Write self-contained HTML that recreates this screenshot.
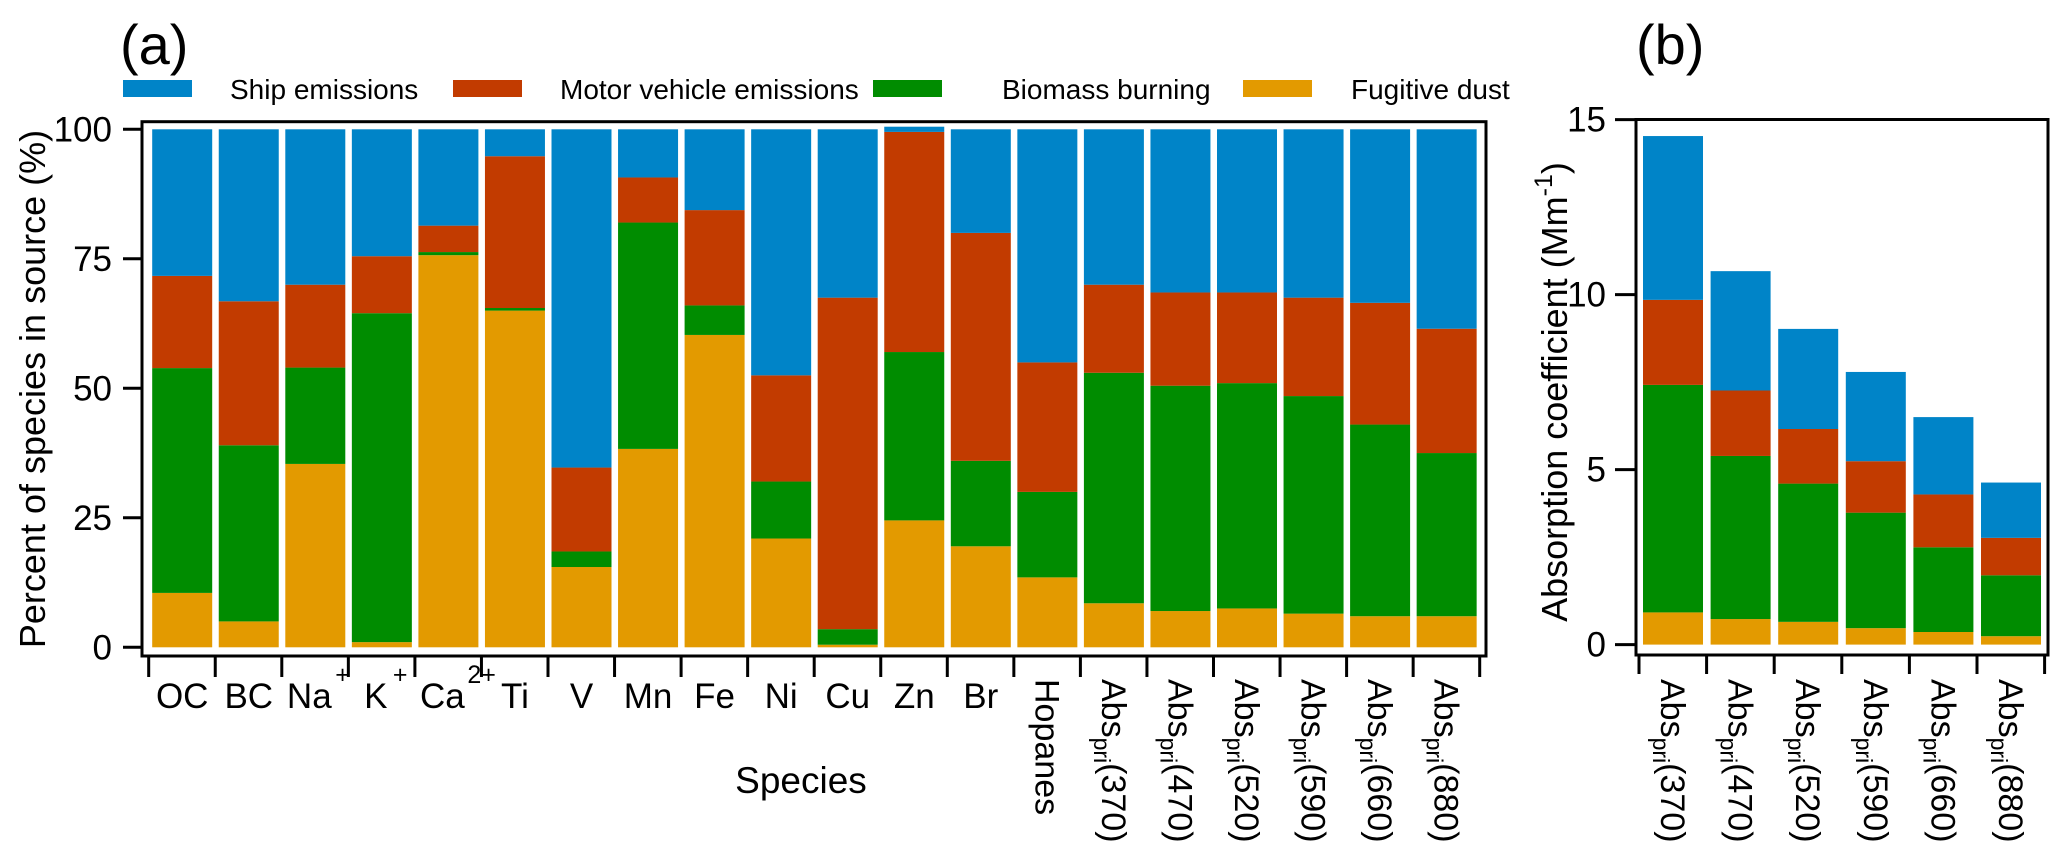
<!DOCTYPE html>
<html><head><meta charset="utf-8"><style>
html,body{margin:0;padding:0;background:#fff;}
svg{display:block;font-family:"Liberation Sans",Arial,sans-serif;}
</style></head><body>
<svg id="chart" width="2067" height="846" viewBox="0 0 2067 846" xmlns="http://www.w3.org/2000/svg">
<g id="gA"></g>
<g id="gB"></g>
<g id="legend"></g>
</svg>
<script>
// ---------- data: panel (a) percent, stacked bottom->top: dust, biomass, motor, ship ----------
const speciesA = ["OC","BC","Na","K","Ca","Ti","V","Mn","Fe","Ni","Cu","Zn","Br","Hopanes","370","470","520","590","660","880"];
const dustA    = [10.5, 5, 35.4, 1, 75.7, 65, 15.5, 38.3, 60.3, 21, 0.5, 24.5, 19.5, 13.5, 8.5, 7, 7.5, 6.5, 6, 6];
const biomassA = [43.4, 34, 18.6, 63.5, 0.6, 0.5, 3, 43.7, 5.7, 11, 3, 32.5, 16.5, 16.5, 44.5, 43.5, 43.5, 42, 37, 31.5];
const motorA   = [17.8, 27.8, 16, 11, 5.1, 29.3, 16.2, 8.7, 18.4, 20.5, 64, 42.5, 44, 25, 17, 18, 17.5, 19, 23.5, 24];
const shipA    = [28.3, 33.2, 30, 24.5, 18.6, 5.2, 65.3, 9.3, 15.6, 47.5, 32.5, 1, 20, 45, 30, 31.5, 31.5, 32.5, 33.5, 38.5];
const yTicksA  = [0, 25, 50, 75, 100];
// ---------- data: panel (b) Mm-1 ----------
const wavesB   = ["370","470","520","590","660","880"];
const dustB    = [0.92, 0.73, 0.65, 0.47, 0.36, 0.24];
const biomassB = [6.50, 4.66, 3.95, 3.30, 2.42, 1.74];
const motorB   = [2.43, 1.87, 1.56, 1.47, 1.51, 1.07];
const shipB    = [4.68, 3.41, 2.86, 2.55, 2.21, 1.58];
const yTicksB  = [0, 5, 10, 15];

const COLORS = {ship:"#0084C8", motor:"#C23B00", biomass:"#008C00", dust:"#E39A00"};
const NS = "http://www.w3.org/2000/svg";
function mk(tag, attrs, parent){const e=document.createElementNS(NS,tag);for(const k in attrs)e.setAttribute(k,attrs[k]);parent.appendChild(e);return e;}

// ---------- panel A ----------
const gA = document.getElementById('gA');
const A = {left:142, top:121.7, right:1486, bottom:656, y0:647.3, y100:129.3, x0:152.2, pitch:66.55, bw:60};
const yA = v => A.y0 - (v/100)*(A.y0-A.y100);
const xA = i => A.x0 + i*A.pitch;
speciesA.forEach((s,i)=>{
  const segs=[["dust",dustA[i]],["biomass",biomassA[i]],["motor",motorA[i]],["ship",shipA[i]]];
  let cum=0;
  segs.forEach(([k,v])=>{
    const r=mk('rect',{x:xA(i),y:yA(cum+v),width:A.bw,height:Math.max(0,yA(cum)-yA(cum+v)),fill:COLORS[k]},gA);
    
    
    cum+=v;
  });
});
const frA=mk('rect',{x:A.left,y:A.top,width:A.right-A.left,height:A.bottom-A.top,fill:"none",stroke:"#000","stroke-width":3},gA);


yTicksA.forEach(t=>{
  const y=yA(t);
  mk('line',{x1:123,x2:A.left,y1:y,y2:y,stroke:"#000","stroke-width":3},gA);
  const tx=mk('text',{x:112,y:y+12,"text-anchor":"end","font-size":35},gA);
  tx.textContent=t;
  
  
});
for(let i=0;i<=speciesA.length;i++){
  const x=xA(i)-3.5;
  mk('line',{x1:x,x2:x,y1:A.bottom,y2:677,stroke:"#000","stroke-width":3},gA);
}
const plain = {"OC":null,"BC":null,"Ti":null,"V":null,"Mn":null,"Fe":null,"Ni":null,"Cu":null,"Zn":null,"Br":null};
const sup = {"Na":"+","K":"+","Ca":"2+"};
speciesA.forEach((s,i)=>{
  const cx=xA(i)+A.bw/2;
  if(s in plain || s in sup){
    const t=mk('text',{x:cx-(s in sup?6:0),y:708,"text-anchor":"middle","font-size":35},gA);
    t.textContent=s;
    
    
    if(s in sup){
      const w = s==="Ca"?19:(s==="Na"?20:11);
      const st=mk('text',{x:cx+w,y:683,"font-size":25},gA);
      st.textContent=sup[s];
      
      
    }
  } else {
    const t=mk('text',{transform:`translate(${cx-12},679) rotate(90)`,"font-size":34},gA);
    if(s==="Hopanes"){ t.textContent="Hopanes"; }
    else {
      const a=mk('tspan',{},t); a.textContent="Abs";
      const b=mk('tspan',{"font-size":23,dy:8},t); b.textContent="pri";
      const c=mk('tspan',{dy:-8},t); c.textContent="("+s+")";
    }
    
    
  }
});
const xtA=mk('text',{x:801,y:793,"text-anchor":"middle","font-size":37},gA);
xtA.textContent="Species";


const ytA=mk('text',{transform:"translate(45,389) rotate(-90)","text-anchor":"middle","font-size":36},gA);
ytA.textContent="Percent of species in source (%)";


const laA=mk('text',{x:120,y:64,"font-size":56},gA);
laA.textContent="(a)";



// ---------- panel B ----------
const gB=document.getElementById('gB');
const B={left:1636, top:119.5, right:2048, bottom:655, y0:644.6, pxPerUnit:35, x0:1643, pitch:67.6, bw:60};
const yB=v=>B.y0-v*B.pxPerUnit;
const xB=i=>B.x0+i*B.pitch;
wavesB.forEach((w,i)=>{
  const segs=[["dust",dustB[i]],["biomass",biomassB[i]],["motor",motorB[i]],["ship",shipB[i]]];
  let cum=0;
  segs.forEach(([k,v])=>{
    const r=mk('rect',{x:xB(i),y:yB(cum+v),width:B.bw,height:Math.max(0,yB(cum)-yB(cum+v)),fill:COLORS[k]},gB);
    
    
    cum+=v;
  });
});
const frB=mk('rect',{x:B.left,y:B.top,width:B.right-B.left,height:B.bottom-B.top,fill:"none",stroke:"#000","stroke-width":3},gB);


yTicksB.forEach(t=>{
  const y=yB(t);
  mk('line',{x1:1615,x2:B.left,y1:y,y2:y,stroke:"#000","stroke-width":3},gB);
  const tx=mk('text',{x:1606,y:y+12,"text-anchor":"end","font-size":35},gB);
  tx.textContent=t;
  
  
});
for(let i=0;i<=wavesB.length;i++){
  const x=xB(i)-4;
  mk('line',{x1:x,x2:x,y1:B.bottom,y2:674,stroke:"#000","stroke-width":3},gB);
}
wavesB.forEach((w,i)=>{
  const cx=xB(i)+B.bw/2;
  const t=mk('text',{transform:`translate(${cx-12},679) rotate(90)`,"font-size":34},gB);
  const a=mk('tspan',{},t); a.textContent="Abs";
  const b=mk('tspan',{"font-size":23,dy:8},t); b.textContent="pri";
  const c=mk('tspan',{dy:-8},t); c.textContent="("+w+")";
  
  
});
const ytB=mk('text',{transform:"translate(1567,392) rotate(-90)","text-anchor":"middle","font-size":36},gB);
ytB.textContent="Absorption coefficient (Mm";
const supB=mk('tspan',{"font-size":25,dy:-15},ytB); supB.textContent="-1";
const clB=mk('tspan',{dy:15},ytB); clB.textContent=")";


const lbB=mk('text',{x:1636,y:64,"font-size":56},gB);
lbB.textContent="(b)";



// ---------- legend ----------
const lg=document.getElementById('legend');
const legendItems=[["ship","Ship emissions",123,230],["motor","Motor vehicle emissions",453,560],["biomass","Biomass burning",873,1002],["dust","Fugitive dust",1243,1351]];
legendItems.forEach(([k,label,sx,tx])=>{
  const r=mk('rect',{x:sx,y:80,width:69,height:17,fill:COLORS[k]},lg);
  
  
  const t=mk('text',{x:tx,y:99,"font-size":28},lg);
  t.textContent=label;
  
  
});
</script>
</body></html>
